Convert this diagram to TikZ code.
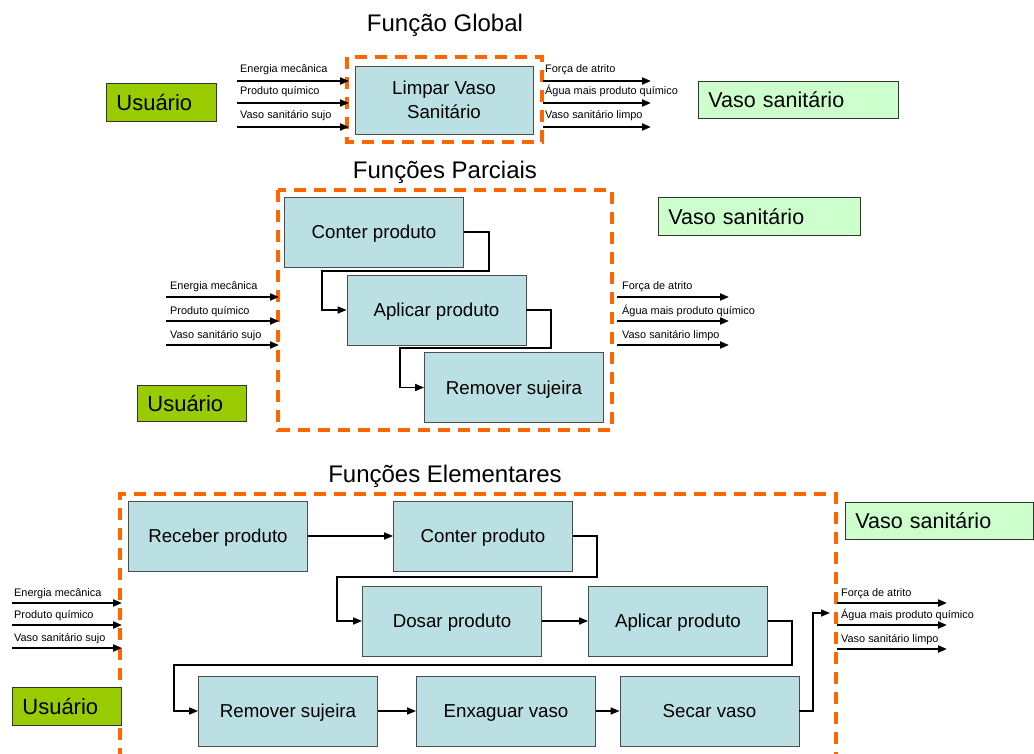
\documentclass[tikz,border=0pt]{standalone}
\usepackage{fontspec}
\setmainfont{Liberation Sans}
\usetikzlibrary{arrows.meta}
\definecolor{fblue}{RGB}{187,224,227}
\definecolor{uorange}{RGB}{255,102,0}
\definecolor{ugreen}{RGB}{153,204,0}
\definecolor{vgreen}{RGB}{204,255,204}
\begin{document}
\begin{tikzpicture}[x=1pt,y=-1pt,
  fbox/.style={draw=black!70, fill=fblue, line width=0.8pt, minimum width=179pt, minimum height=70pt, inner sep=0pt, font=\fontsize{18.7}{22}\selectfont, text height=15pt, text depth=1.5pt},
  gbox/.style={draw=black!70, fill=fblue, line width=0.8pt, inner sep=0pt, font=\fontsize{18.7}{23.5}\selectfont, align=center},
  frame/.style={draw=uorange, line width=3.5pt, dash pattern=on 12pt off 8pt},
  flow/.style={line width=2pt, -{Triangle[length=9pt,width=7pt]}},
  link/.style={line width=1.6pt, -{Triangle[length=9pt,width=7pt]}},
  lbl/.style={font=\fontsize{10.9}{12}\selectfont, anchor=base west, inner sep=0pt},
  tag/.style={draw=black!80, line width=0.8pt, anchor=north west, inner xsep=10pt, inner ysep=0pt, align=left},
  user/.style={tag, fill=ugreen, font=\fontsize{22}{24}\selectfont},
  vaso/.style={tag, fill=vgreen, font=\fontsize{21.5}{24}\selectfont},
  ttl/.style={font=\fontsize{24}{28}\selectfont, inner sep=0pt}]
\useasboundingbox (0,0) rectangle (1034,754);

% ---------- Função Global ----------
\node[ttl] (t1) at (445,25) {Função Global};
\draw[frame] (347,57) rectangle (542,142);
\node[gbox, minimum width=178pt, minimum height=68pt] (g) at (444,100) {Limpar Vaso\\Sanitário};
\node[user, text width=90pt, minimum height=38pt] (u1) at (106,83) {Usuário};
\node[vaso, text width=180pt, minimum height=37pt] (v1) at (698,81) {Vaso sanitário};
\foreach \y/\t [count=\i] in {81/Energia mecânica,103/Produto químico,127/Vaso sanitário sujo}{
  \coordinate (gi\i a) at (237,\y); \coordinate (gi\i b) at (349,\y);
  \draw[flow] (gi\i a) -- (gi\i b);
  \node[lbl] (gil\i) at (240,\y-8) {\t};
}
\foreach \y/\t [count=\i] in {81/Força de atrito,103/Água mais produto químico,127/Vaso sanitário limpo}{
  \coordinate (go\i a) at (543,\y); \coordinate (go\i b) at (651,\y);
  \draw[flow] (go\i a) -- (go\i b);
  \node[lbl] (gol\i) at (545,\y-8) {\t};
}

% ---------- Funções Parciais ----------
\node[ttl] (t2) at (445,172) {Funções Parciais};
\draw[frame] (278,190) rectangle (612,430);
\node[fbox] (p1) at (374,232) {Conter produto};
\node[fbox] (p2) at (436.5,310) {Aplicar produto};
\node[fbox] (p3) at (514,387.5) {Remover sujeira};
\draw[link] (p1.east) -- (489,232) -- (489,271) -- (322,271) -- (322,310) -- (p2.west);
\draw[link] (p2.east) -- (551,310) -- (551,348) -- (400,348) -- (400,387.5) -- (p3.west);
\node[user, text width=89pt, minimum height=36pt] (u2) at (137,385) {Usuário};
\node[vaso, text width=182pt, minimum height=38pt] (v2) at (658,197) {Vaso sanitário};
\foreach \y/\t [count=\i] in {297/Energia mecânica,321/Produto químico,345/Vaso sanitário sujo}{
  \coordinate (pi\i a) at (166,\y); \coordinate (pi\i b) at (279,\y);
  \draw[flow] (pi\i a) -- (pi\i b);
  \node[lbl] (pil\i) at (170,\y-7) {\t};
}
\foreach \y/\t [count=\i] in {297/Força de atrito,321/Água mais produto químico,345/Vaso sanitário limpo}{
  \coordinate (po\i a) at (617,\y); \coordinate (po\i b) at (729,\y);
  \draw[flow] (po\i a) -- (po\i b);
  \node[lbl] (pol\i) at (622,\y-7) {\t};
}

% ---------- Funções Elementares ----------
\node[ttl] (t3) at (445,476) {Funções Elementares};
\draw[frame] (120,760) -- (120,494) -- (836,494) -- (836,760);
\node[fbox] (e1) at (218,536) {Receber produto};
\node[fbox] (e2) at (483,536) {Conter produto};
\node[fbox] (e3) at (452,621) {Dosar produto};
\node[fbox] (e4) at (678,621) {Aplicar produto};
\node[fbox] (e5) at (288,711) {Remover sujeira};
\node[fbox] (e6) at (506,711) {Enxaguar vaso};
\node[fbox] (e7) at (709.5,711) {Secar vaso};
\draw[link] (e1.east) -- (e2.west);
\draw[link] (e2.east) -- (597,536) -- (597,577) -- (337,577) -- (337,621) -- (e3.west);
\draw[link] (e3.east) -- (e4.west);
\draw[link] (e4.east) -- (792,621) -- (792,665) -- (174,665) -- (174,711) -- (e5.west);
\draw[link] (e5.east) -- (e6.west);
\draw[link] (e6.east) -- (e7.west);
\coordinate (eout) at (830,613);
\draw[link] (e7.east) -- (813,711) -- (813,613) -- (eout);
\node[user, text width=89pt, minimum height=38pt] (u3) at (12,687) {Usuário};
\node[vaso, text width=168pt, minimum height=37pt] (v3) at (845,502) {Vaso sanitário};
\foreach \y/\t [count=\i] in {603/Energia mecânica,625/Produto químico,648/Vaso sanitário sujo}{
  \coordinate (ei\i a) at (12,\y); \coordinate (ei\i b) at (122,\y);
  \draw[flow] (ei\i a) -- (ei\i b);
  \node[lbl] (eil\i) at (14,\y-7) {\t};
}
\foreach \y/\t [count=\i] in {603/Força de atrito,625/Água mais produto químico,649/Vaso sanitário limpo}{
  \coordinate (eo\i a) at (837,\y); \coordinate (eo\i b) at (947,\y);
  \draw[flow] (eo\i a) -- (eo\i b);
  \node[lbl] (eol\i) at (841,\y-7) {\t};
}
\end{tikzpicture}
\end{document}
